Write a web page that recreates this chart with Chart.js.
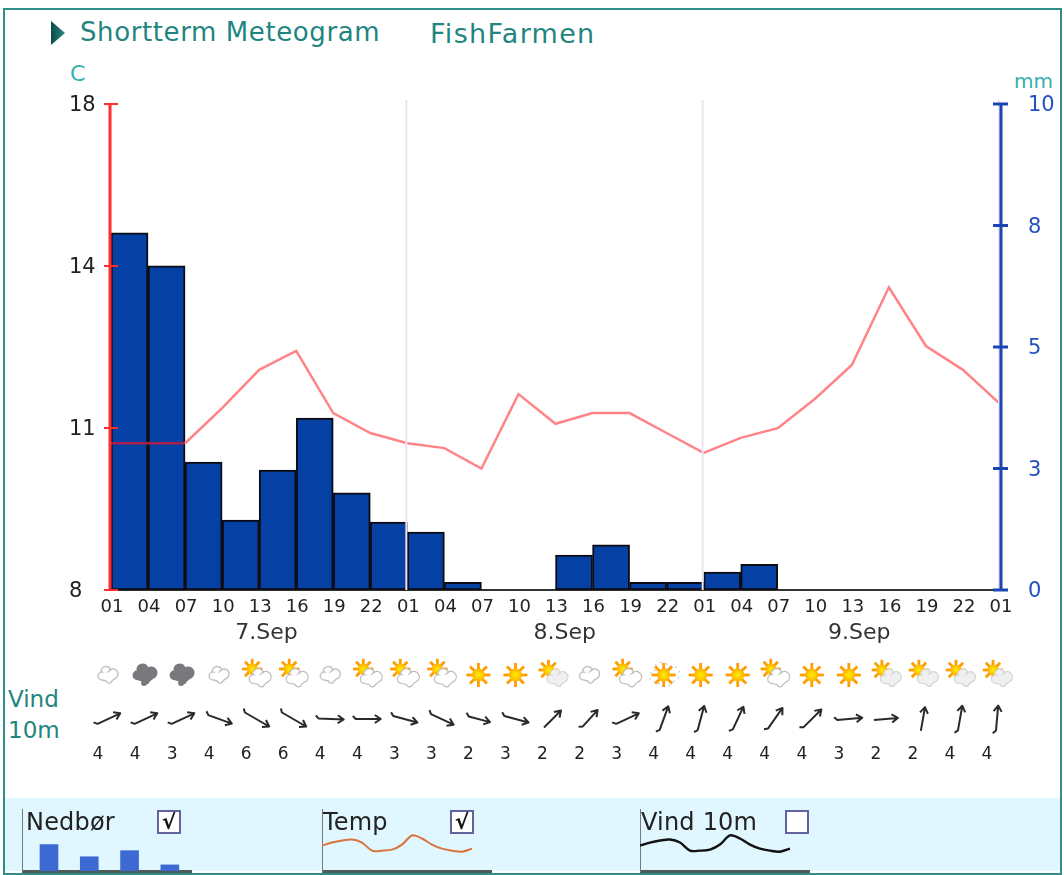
<!DOCTYPE html>
<html><head><meta charset="utf-8">
<script src="https://cdn.jsdelivr.net/npm/chart.js@4/dist/chart.umd.js"></script>
<style>
html,body{margin:0;padding:0;background:#fff;width:1064px;height:875px;overflow:hidden;font-family:"DejaVu Sans",sans-serif}
.abs{position:absolute;white-space:nowrap}
#frame{left:3px;top:8px;width:1055px;height:863px;border:2px solid #2f8f88}
#band{left:5px;top:798px;width:1055px;height:73px;background:#e0f7ff}
#arrow{left:51px;top:21px;width:14px;height:24px;background:linear-gradient(90deg,#0b4a48,#2a8a80);clip-path:polygon(0 0,100% 50%,0 100%)}
.teal{color:#1f8580}
.leg{font-size:24px;line-height:28px;color:#222;top:808px;letter-spacing:.2px}
.box{top:810px;width:20px;height:20px;background:#fff;border:2.5px solid #62629f;color:#111;font-size:22px;font-weight:bold;line-height:20px;text-align:center;overflow:hidden}
canvas{position:absolute}
</style></head><body>
<div class="abs" id="frame"></div>
<div class="abs" id="band"></div>
<div class="abs" id="arrow"></div>
<div class="abs teal" style="left:80px;top:15px;font-size:26px;line-height:34px;letter-spacing:.6px">Shortterm Meteogram</div>
<div class="abs teal" style="left:430px;top:17px;font-size:27px;line-height:34px;letter-spacing:1.3px">FishFarmen</div>
<div class="abs" style="left:70px;top:62px;font-size:22px;line-height:24px;color:#35b0ac">C</div>
<div class="abs" style="left:1014px;top:69px;font-size:20px;line-height:24px;color:#35b0ac">mm</div>
<div class="abs teal" style="left:8px;top:684px;font-size:23px;line-height:30px">Vind</div>
<div class="abs teal" style="left:8px;top:715px;font-size:23px;line-height:30px">10m</div>
<canvas id="main" width="1064" height="875" style="left:0;top:0"></canvas>
<canvas id="miniPrecip" width="170" height="64" style="left:22px;top:809px"></canvas>
<canvas id="miniTemp" width="170" height="64" style="left:322px;top:809px"></canvas>
<canvas id="miniWind" width="170" height="64" style="left:640px;top:809px"></canvas>
<div class="abs leg" style="left:26px">Nedbør</div>
<div class="abs leg" style="left:323px">Temp</div>
<div class="abs leg" style="left:641px">Vind 10m</div>
<div class="abs box" style="left:157px">√</div>
<div class="abs box" style="left:450px">√</div>
<div class="abs box" style="left:785px"></div>
<script>
// ---- data ----
const hourLabels = ['01','04','07','10','13','16','19','22','01','04','07','10','13','16','19','22','01','04','07','10','13','16','19','22','01'];
const temperature = [11.02,11.02,11.02,11.74,12.53,12.92,11.64,11.23,11.02,10.92,10.5,12.03,11.42,11.64,11.64,11.23,10.82,11.13,11.33,11.93,12.63,14.23,13.02,12.53,11.83];
const precipitation = [7.35,6.67,2.63,1.44,2.47,3.54,2.0,1.4,1.19,0.16,0,0,0.72,0.93,0.16,0.16,0.37,0.53,0,0,0,0,0,0];
const tempTickValues = [8,11.333,14.667,18];
const tempTickLabels = ['8','11','14','18'];
const precipTickValues = [0,2.5,5,7.5,10];
const precipTickLabels = ['0','3','5','8','10'];
const dayLabels = ['7.Sep','8.Sep','9.Sep'];
const dayLabelIndex = [4.2,12.25,20.2];
const dayBoundaries = [8,16,24];
const windSpeed = [4,4,3,4,6,6,4,4,3,3,2,3,2,2,3,4,4,4,4,4,3,2,2,4,4];
const windDirection = [65,65,65,110,120,120,92,90,105,115,105,105,45,42,65,20,15,25,35,45,85,85,10,10,5];
const windBarb = [1,1,1,1,1,1,1,1,1,1,1,1,0,1,1,1,1,1,1,1,1,0,0,1,1];
const weatherSymbol = ['c','d','d','c','p','p','c','p','p','p','s','s','m','c','p','f','s','s','p','s','s','m','m','m','m'];
const miniPrecipValues = [26,14,20,6];
const miniTempValues = [25,28,30,31,28,20,20,21,26,35,32,26,22,20,19,22,null,null];
const miniWindValues = [25,28,30,31,28,20,20,21,26,35,32,26,22,20,19,22,null,null];

// ---- drawing helpers ----
function cloudPath(c,x,y,s){
  c.beginPath();
  c.arc(x-6*s,y+1*s,4*s,Math.PI*.5,Math.PI*1.5);
  c.arc(x-2*s,y-3.5*s,5*s,Math.PI,Math.PI*1.9);
  c.arc(x+5*s,y-1*s,5*s,Math.PI*1.2,Math.PI*.4);
  c.arc(x+1*s,y+5*s,3*s,Math.PI*.1,Math.PI*.9);
  c.closePath();
}
function sun(c,x,y,r){
  c.strokeStyle='#ff9d00';c.lineWidth=2.8;
  for(let a=0;a<8;a++){const t=a*Math.PI/4;
    c.beginPath();c.moveTo(x+Math.cos(t)*r*.9,y+Math.sin(t)*r*.9);c.lineTo(x+Math.cos(t)*r*1.85,y+Math.sin(t)*r*1.85);c.stroke();}
  const g=c.createRadialGradient(x,y,0,x,y,r);g.addColorStop(0,'#fff000');g.addColorStop(1,'#ffb000');
  c.fillStyle=g;c.beginPath();c.arc(x,y,r,0,7);c.fill();
}
function drawSymbol(c,k,x,y){
  c.save();c.filter='blur(0.5px)';
  if(k==='c'){c.strokeStyle='#c4c4c4';c.lineWidth=1.5;cloudPath(c,x,y,1);c.stroke();}
  if(k==='d'){c.fillStyle='#77797c';cloudPath(c,x,y-1,1.25);c.fill();c.beginPath();c.arc(x-1,y+8,3,0,7);c.fill();}
  if(k==='p'){sun(c,x-4,y-6,5.5);c.fillStyle='#fff';c.strokeStyle='#bdbdbd';c.lineWidth=1.2;cloudPath(c,x+4,y+3,1.1);c.fill();c.stroke();}
  if(k==='s'){sun(c,x,y,6.5);}
  if(k==='m'){sun(c,x-4,y-5,5.5);c.fillStyle='#f0f0f0';c.strokeStyle='#d4d4d4';c.lineWidth=1.2;cloudPath(c,x+5,y+3,1.05);c.fill();c.stroke();}
  if(k==='f'){c.strokeStyle='#d0d0d0';c.lineWidth=1.4;c.setLineDash([2,4]);cloudPath(c,x+1,y,1.5);c.stroke();c.setLineDash([]);sun(c,x,y,6.5);}
  c.restore();
}
function drawArrow(c,x,y,deg,speed,barb){
  const len=speed>=6?30:speed>=3?27:24;
  c.save();c.filter='blur(0.4px)';c.translate(x,y);c.rotate((deg-90)*Math.PI/180);
  c.strokeStyle='#2a2a2a';c.lineWidth=2;c.lineJoin='round';
  c.beginPath();
  if(barb){c.moveTo(-len/2-1,-3);c.lineTo(-len/2+2,0);} else {c.moveTo(-len/2,0);}
  c.lineTo(len/2,0);
  c.moveTo(len/2-6,-4);c.lineTo(len/2,0);c.lineTo(len/2-6,4);c.stroke();
  c.restore();
}
const meteogramExtras = {
  id:'meteogramExtras',
  afterDatasetsDraw(ch){
    const c=ch.ctx,x=ch.scales.x,t=ch.scales.yTemp,p=ch.scales.yPrecip,area=ch.chartArea;
    c.save();
    // day boundary lines
    c.strokeStyle='#f0e2f2';c.lineWidth=2;
    dayBoundaries.forEach(d=>{const px=x.getPixelForValue(d)-1;c.beginPath();c.moveTo(px,area.top-4);c.lineTo(px,area.bottom);c.stroke();});
    // left axis, crossing ticks
    const lx=area.left-1;
    c.strokeStyle='#ff2f2f';c.lineWidth=3;
    c.beginPath();c.moveTo(lx,area.top);c.lineTo(lx,area.bottom);c.stroke();
    c.lineWidth=2;
    t.ticks.forEach((tk,i)=>{const py=t.getPixelForTick(i);c.beginPath();c.moveTo(lx-6,py);c.lineTo(lx+8,py);c.stroke();});
    // right axis, crossing ticks
    c.strokeStyle='#1d44b4';c.lineWidth=3;
    c.beginPath();c.moveTo(area.right+1,area.top);c.lineTo(area.right+1,area.bottom);c.stroke();
    p.ticks.forEach((tk,i)=>{const py=p.getPixelForTick(i);c.beginPath();c.moveTo(area.right-7,py);c.lineTo(area.right+8,py);c.stroke();});
    // day labels
    c.fillStyle='#333';c.font='22px "DejaVu Sans"';c.textAlign='center';c.textBaseline='middle';
    dayLabels.forEach((d,i)=>c.fillText(d,x.getPixelForValue(dayLabelIndex[i]),633));
    // weather row, wind arrows and wind speed
    weatherSymbol.forEach((k,i)=>drawSymbol(c,k,x.getPixelForValue(i)-3,675));
    windDirection.forEach((d,i)=>drawArrow(c,x.getPixelForValue(i)-3,719,d,windSpeed[i],windBarb[i]));
    c.fillStyle='#222';c.font='17px "DejaVu Sans"';
    windSpeed.forEach((s,i)=>c.fillText(String(s),x.getPixelForValue(i)-13,755));
    c.restore();
  }
};
const LINE='#ff8488',LINE_DARK='#a81f4a';
new Chart(document.getElementById('main'),{
  data:{datasets:[
    {type:'line',label:'Temp',order:0,yAxisID:'yTemp',
      data:temperature.map((y,i)=>({x:i,y})),
      borderColor:LINE,borderWidth:2.5,pointRadius:0,tension:0,
      segment:{borderColor:s=>s.p0DataIndex<2?LINE_DARK:LINE}},
    {type:'bar',label:'Nedbør',order:1,yAxisID:'yPrecip',
      data:precipitation.map((y,i)=>({x:i+.5,y})),
      backgroundColor:'#0540a4',borderColor:'#0c0c14',borderWidth:2,borderSkipped:false,
      barPercentage:1,categoryPercentage:1}
  ]},
  options:{
    responsive:false,animation:false,
    layout:{padding:{left:69,top:104,right:0,bottom:0}},
    plugins:{legend:{display:false},tooltip:{enabled:false},title:{display:false}},
    scales:{
      x:{type:'linear',min:0,max:24,offset:false,
        grid:{display:false,drawTicks:false},border:{display:true,color:'#333',width:2},
        afterFit(s){s.height=285;},
        afterBuildTicks(s){s.ticks=hourLabels.map((l,i)=>({value:i}));},
        ticks:{autoSkip:false,maxRotation:0,minRotation:0,padding:7,labelOffset:1,color:'#222',
          font:{family:'"DejaVu Sans"',size:18},callback:(v,i)=>hourLabels[i]}},
      yTemp:{type:'linear',position:'left',min:8,max:18,
        grid:{display:false,drawTicks:false},border:{display:false},
        afterFit(s){s.width=42;},
        afterBuildTicks(s){s.ticks=tempTickValues.map(value=>({value}));},
        ticks:{crossAlign:'far',labelOffset:2,color:'#222',font:{family:'"DejaVu Sans"',size:21},callback:(v,i)=>tempTickLabels[i]}},
      yPrecip:{type:'linear',position:'right',min:0,max:10,
        grid:{display:false,drawTicks:false},border:{display:false},
        afterFit(s){s.width=64;},
        afterBuildTicks(s){s.ticks=precipTickValues.map(value=>({value}));},
        ticks:{padding:28,labelOffset:2,color:'#2450c0',font:{family:'"DejaVu Sans"',size:21},callback:(v,i)=>precipTickLabels[i]}}
    }
  },
  plugins:[meteogramExtras]
});
function miniOptions(xOpts){
  return {responsive:false,animation:false,layout:{padding:{bottom:2}},
    plugins:{legend:{display:false},tooltip:{enabled:false}},
    scales:{
      x:Object.assign({grid:{display:false,drawTicks:false},ticks:{display:false},border:{color:'#505c5c',width:3}},xOpts),
      y:{min:0,max:61,grid:{display:false,drawTicks:false},ticks:{display:false},border:{color:'#7a7a7a',width:2}}
    }};
}
new Chart(document.getElementById('miniPrecip'),{type:'bar',
  data:{datasets:[{data:miniPrecipValues.map((y,i)=>({x:i+1,y})),backgroundColor:'#3d69d2',barThickness:18}]},
  options:miniOptions({type:'linear',min:.33,max:4.55,offset:false})});
new Chart(document.getElementById('miniTemp'),{type:'line',
  data:{labels:miniTempValues.map((v,i)=>i+1),datasets:[{data:miniTempValues,borderColor:'#d8733c',borderWidth:2,pointRadius:0,tension:.3}]},
  options:miniOptions({})});
new Chart(document.getElementById('miniWind'),{type:'line',
  data:{labels:miniWindValues.map((v,i)=>i+1),datasets:[{data:miniWindValues,borderColor:'#111',borderWidth:2.4,pointRadius:0,tension:.3}]},
  options:miniOptions({})});
</script>
</body></html>
